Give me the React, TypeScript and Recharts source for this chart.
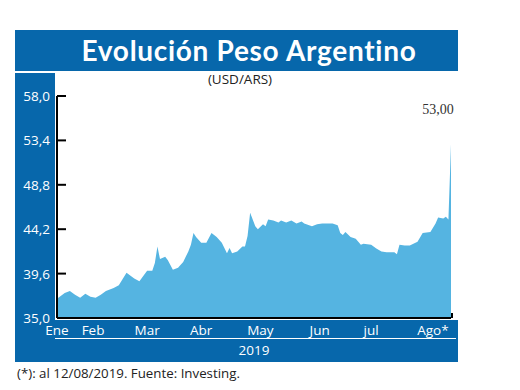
import { AreaChart, Area, XAxis, YAxis } from 'recharts';

// USD/ARS closing values, x = trading day since 2 Jan 2019
const days = [
    0, 3, 5, 7, 9, 11, 13, 15, 17, 19, 22, 24, 27, 30, 32, 35, 37, 38, 39, 40,
    42, 43, 45, 47, 49, 51, 52, 53, 54, 56, 58, 60, 62, 64, 66, 67, 68, 70, 72, 73,
    74, 75, 77, 78, 80, 81, 82, 84, 86, 87, 89, 91, 93, 95, 96, 99, 101, 103, 107, 109,
    110, 111, 112, 114, 116, 118, 119, 122, 124, 126, 128, 131, 132, 133, 135, 137, 140, 142, 145, 147,
    148, 150, 151, 152, 153,
];
const usdArs = [
    37.0, 37.6, 37.8, 37.4, 37.1, 37.5, 37.2, 37.1, 37.4, 37.8, 38.1, 38.4, 39.7, 39.1, 38.8, 39.9, 39.9, 40.7, 42.4, 41.1,
    41.35, 41.0, 40.0, 40.2, 40.8, 41.9, 42.6, 43.8, 43.4, 42.8, 42.8, 43.8, 43.4, 42.8, 41.7, 42.25, 41.7, 41.9, 42.4, 42.4,
    43.5, 45.9, 44.5, 44.2, 44.7, 44.5, 45.2, 45.1, 44.9, 45.1, 44.9, 45.1, 44.8, 45.0, 44.8, 44.5, 44.7, 44.8, 44.8, 44.6,
    43.8, 43.6, 43.9, 43.4, 43.2, 42.6, 42.7, 42.6, 42.2, 41.9, 41.8, 41.8, 41.6, 42.6, 42.5, 42.5, 42.9, 43.8, 43.9, 44.8,
    45.4, 45.3, 45.5, 45.2, 53.0,
];

const yTicks = [35.0, 39.6, 44.2, 48.8, 53.4, 58.0];
const monthLabels = ['Ene', 'Feb', 'Mar', 'Abr', 'May', 'Jun', 'jul', 'Ago*'];
const monthTickDays = [0, 14, 35, 56, 79, 102, 122, 146];
const yearLabel = '2019';

const BLUE = '#0767ab';
const FILL = '#55b4e1';
const FONT = '"Open Sans", sans-serif';

const data = days.map((d, i) => ({ d, v: usdArs[i] }));

const fmt = (v: number, n: number) => v.toFixed(n).replace('.', ',');

function YTick(props: any) {
    const { x, y, payload } = props;
    return (
        <g>
            <text x={x} y={y} dy={5} textAnchor="end" fill="#fff" fontSize={13.5} fontFamily={FONT}>
                {fmt(payload.value, 1)}
            </text>
            <line x1={x + 7} x2={x + 16} y1={y} y2={y} stroke="#000" strokeWidth={2} />
        </g>
    );
}

function XTick(props: any) {
    const { x, y, payload } = props;
    const idx = monthTickDays.indexOf(payload.value);
    return (
        <text x={x} y={y + 17} textAnchor="middle" fill="#fff" fontSize={13.5} fontFamily={FONT}>
            {monthLabels[idx]}
        </text>
    );
}

function LastLabel(props: any) {
    const { x, y, index } = props;
    if (index !== data.length - 1) return null;
    return (
        <g>
            <text x={x - 13} y={y - 30} textAnchor="middle" fill="#333" fontSize={14}
                fontFamily='"Liberation Serif", serif'>
                {fmt(data[index].v, 2)}
            </text>
            {/* small end tick on the x axis */}
            <line x1={x + 1} x2={x + 1} y1={318} y2={313} stroke="#000" strokeWidth={2} />
        </g>
    );
}

export default function App() {
    return (
        <div style={{ position: 'absolute', left: 0, top: 0, width: 520, height: 390, background: '#fff' }}>
            {/* title bar */}
            <div style={{ position: 'absolute', left: 15, top: 30, width: 443, height: 41, background: BLUE }} />
            <div style={{
                position: 'absolute', left: 55, top: 30, width: 388, height: 41, lineHeight: '41px',
                textAlign: 'center', color: '#fff', fontFamily: 'Lato, sans-serif', fontWeight: 700,
                fontSize: 28, letterSpacing: 0.7,
            }}>
                Evolución Peso Argentino
            </div>
            {/* frame bands */}
            <div style={{ position: 'absolute', left: 15, top: 73, width: 40, height: 289, background: BLUE }} />
            <div style={{ position: 'absolute', left: 15, top: 320, width: 443, height: 42, background: BLUE }} />
            <div style={{ position: 'absolute', left: 55, top: 338, width: 401, height: 1, background: '#fff' }} />
            <div style={{
                position: 'absolute', left: 57, top: 341, width: 394, textAlign: 'center',
                color: '#fff', fontFamily: FONT, fontSize: 13.5,
            }}>
                {yearLabel}
            </div>
            <div style={{
                position: 'absolute', left: 190, top: 70, width: 100, textAlign: 'center',
                color: '#222', fontFamily: FONT, fontSize: 13.5,
            }}>
                (USD/ARS)
            </div>
            <div style={{
                position: 'absolute', left: 17, top: 364, color: '#222', fontFamily: FONT, fontSize: 13.3,
            }}>
                (*): al 12/08/2019. Fuente: Investing.
            </div>
            <div style={{ position: 'absolute', left: 0, top: 0 }}>
                <AreaChart width={520} height={390} data={data}
                    margin={{ top: 96, right: 69, bottom: 42, left: 0 }}>
                    <XAxis dataKey="d" type="number" domain={[0, 153]} ticks={monthTickDays} interval={0}
                        tickLine={false} tickSize={0} tickMargin={0} height={30}
                        axisLine={{ stroke: '#000', strokeWidth: 2 }} tick={<XTick />} />
                    <YAxis type="number" domain={[35, 58]} ticks={yTicks} interval={0} width={57}
                        tickLine={false} tickSize={0} tickMargin={7}
                        axisLine={{ stroke: '#000', strokeWidth: 2 }} tick={<YTick />} />
                    <Area type="linear" dataKey="v" stroke="none" fill={FILL} fillOpacity={1}
                        isAnimationActive={false} label={<LastLabel />} />
                </AreaChart>
            </div>
        </div>
    );
}
